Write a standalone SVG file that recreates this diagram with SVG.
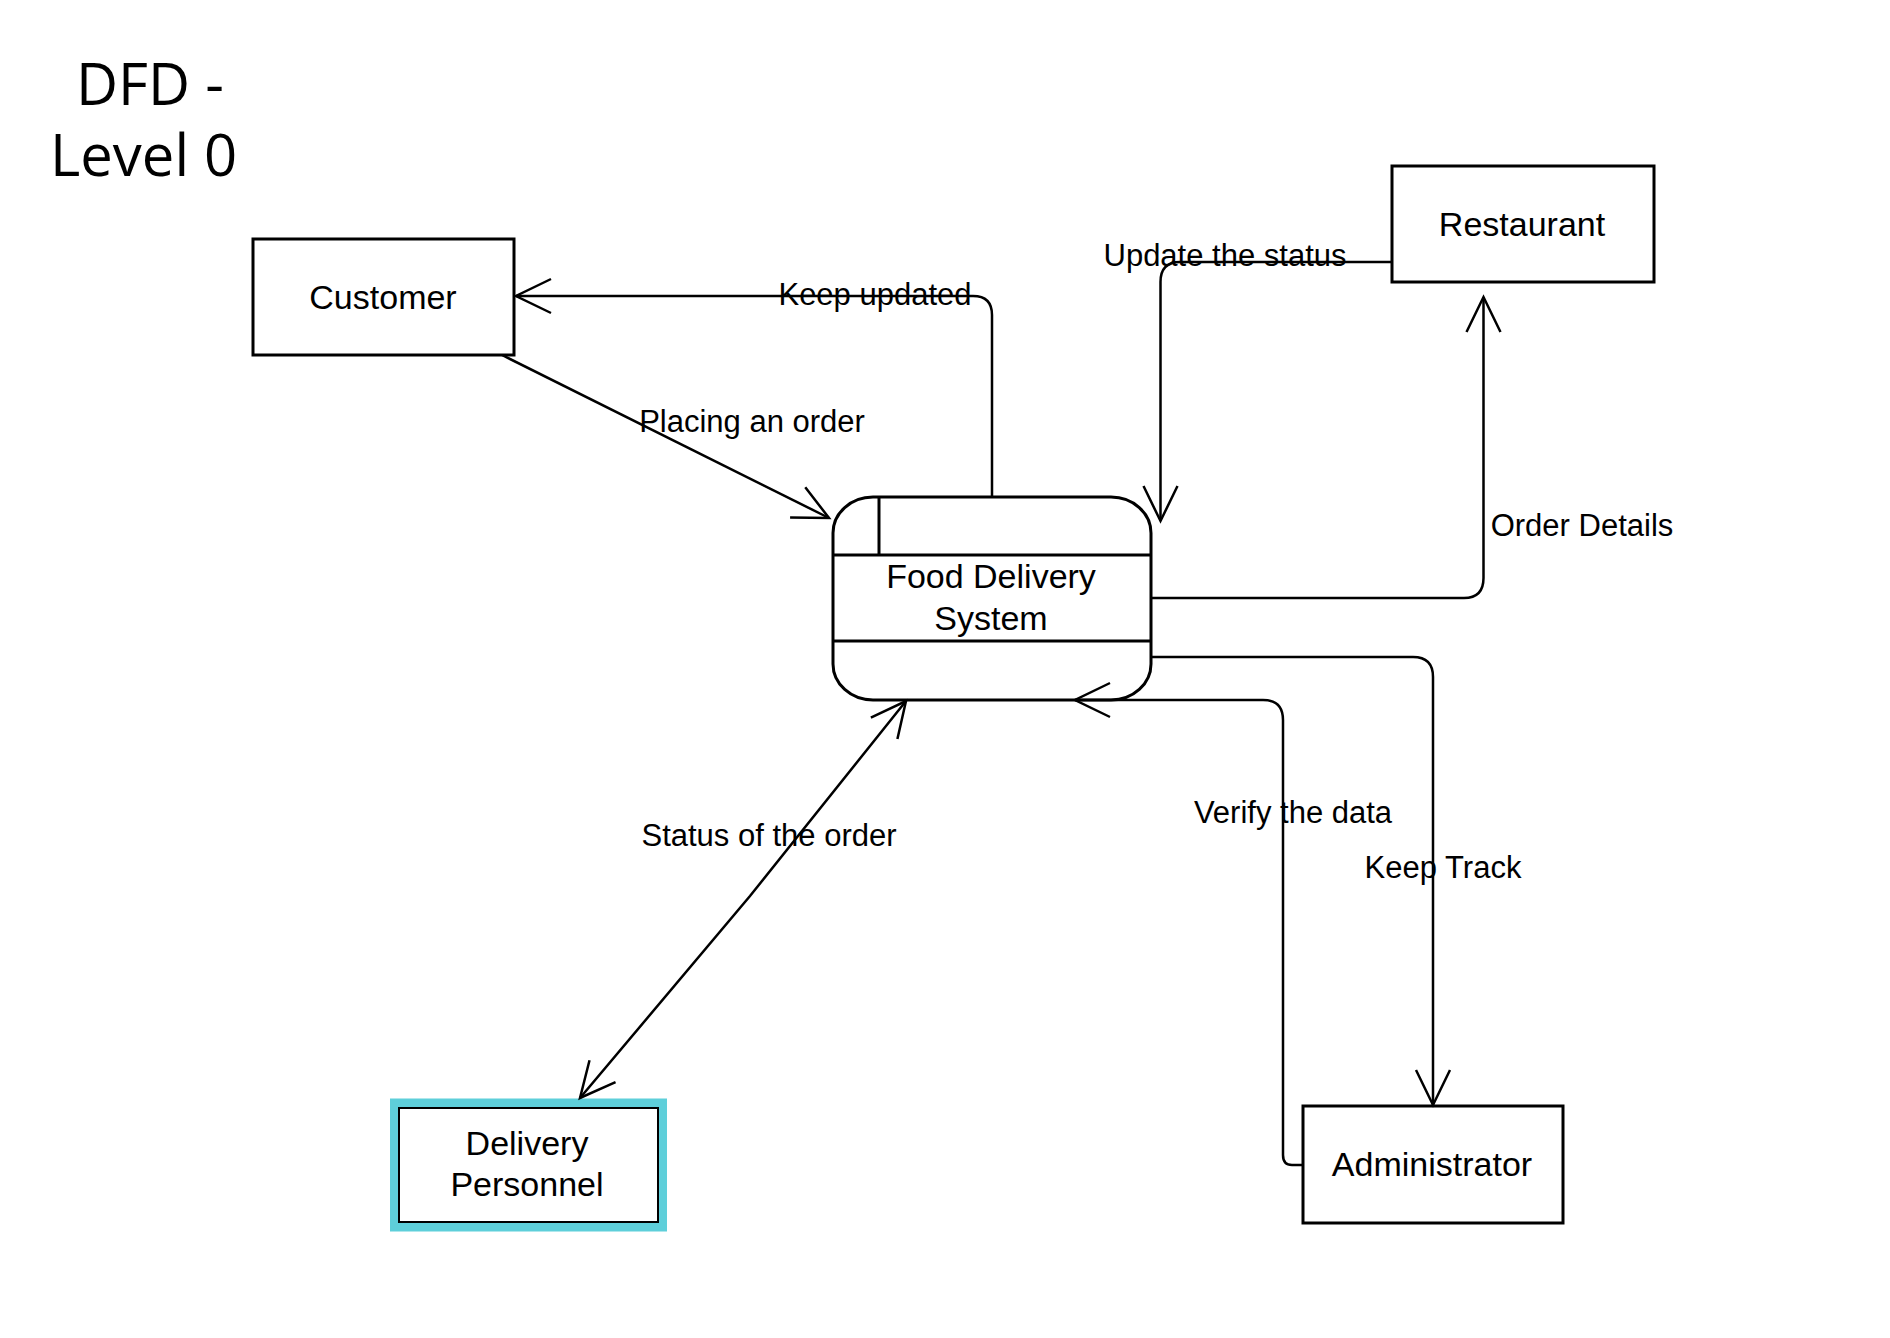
<svg xmlns="http://www.w3.org/2000/svg" width="1890" height="1338" viewBox="0 0 1890 1338">
<style>
.box{fill:#fff;stroke:#000;stroke-width:3}
.node{font-family:"Liberation Sans",Arial,sans-serif;font-size:34px;fill:#000;text-anchor:middle}
.lbl{font-family:"Liberation Sans",Arial,sans-serif;font-size:31px;fill:#000;text-anchor:middle}
.title{font-family:"Open Sans","Noto Sans",sans-serif;font-size:58px;fill:#000}
.edge{fill:none;stroke:#000;stroke-width:2.5}
</style>
<defs>
<marker id="arr" markerUnits="userSpaceOnUse" markerWidth="44" markerHeight="44" viewBox="-40 -22 44 44" refX="0" refY="0" orient="auto-start-reverse" overflow="visible">
<path d="M-35,-17 L0,0 L-35,17" fill="none" stroke="#000" stroke-width="2.5"/>
</marker>
</defs>
<rect width="1890" height="1338" fill="#fff"/>
<g id="title">
<text class="title" x="76" y="105">DFD -</text>
<text class="title" x="50" y="176">Level 0</text>
</g>
<g id="customer">
<rect class="box" x="253" y="239" width="261" height="116"/>
<text class="node" x="383" y="309">Customer</text>
</g>
<g id="restaurant">
<rect class="box" x="1392" y="166" width="262" height="116"/>
<text class="node" x="1522" y="236">Restaurant</text>
</g>
<g id="food-delivery-system">
<rect class="box" x="833" y="497" width="318" height="203" rx="40" ry="36"/>
<line x1="833" y1="555" x2="1151" y2="555" stroke="#000" stroke-width="3"/>
<line x1="833" y1="641" x2="1151" y2="641" stroke="#000" stroke-width="3"/>
<line x1="879" y1="497" x2="879" y2="555" stroke="#000" stroke-width="3"/>
<text class="node" x="991" y="588">Food Delivery</text>
<text class="node" x="991" y="630">System</text>
</g>
<g id="administrator">
<rect class="box" x="1303" y="1106" width="260" height="117"/>
<text class="node" x="1432" y="1176">Administrator</text>
</g>
<g id="delivery-personnel">
<rect x="394.5" y="1103" width="268" height="124" fill="none" stroke="#5ECFDA" stroke-width="9"/>
<rect x="399" y="1108" width="259" height="114" fill="#fff" stroke="#000" stroke-width="2"/>
<text class="node" x="527" y="1155">Delivery</text>
<text class="node" x="527" y="1196">Personnel</text>
</g>
<g id="connectors">
<path class="edge" d="M992,497 L992,315 Q992,296 973,296 L516,296" marker-end="url(#arr)"/>
<path class="edge" d="M502,355 L829,518" marker-end="url(#arr)"/>
<path class="edge" d="M1392,262 L1180,262 Q1160.5,262 1160.5,282 L1160.5,521" marker-end="url(#arr)"/>
<path class="edge" d="M1151,598 L1464,598 Q1483.5,598 1483.5,578 L1483.5,297" marker-end="url(#arr)"/>
<path class="edge" d="M1151,657 L1413,657 Q1433,657 1433,677 L1433,1105" marker-end="url(#arr)"/>
<path class="edge" d="M1302,1165 L1292,1165 Q1283,1165 1283,1155 L1283,720 Q1283,700 1263,700 L1075,700" marker-end="url(#arr)"/>
<path class="edge" d="M906,701 L750,896 L580,1098" marker-start="url(#arr)" marker-end="url(#arr)"/>
<text class="lbl" x="875" y="305">Keep updated</text>
<text class="lbl" x="752" y="432">Placing an order</text>
<text class="lbl" x="1225" y="266">Update the status</text>
<text class="lbl" x="1582" y="536">Order Details</text>
<text class="lbl" x="769" y="846">Status of the order</text>
<text class="lbl" x="1293" y="823">Verify the data</text>
<text class="lbl" x="1443" y="878">Keep Track</text>
</g>
</svg>
